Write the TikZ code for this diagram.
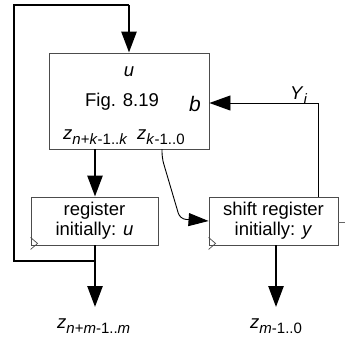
\documentclass[tikz,border=0pt]{standalone}
\usepackage{fontspec}
\setmainfont{Liberation Sans}
\usetikzlibrary{arrows.meta}
\newcommand\mysub[1]{\raisebox{-5pt}{\fontsize{15}{15}\selectfont #1}}
\begin{document}
\begin{tikzpicture}[x=1pt,y=-1pt,
  font=\fontsize{18.5}{20}\selectfont,
  blk/.style={draw=black!70,line width=0.9pt,inner sep=0pt,fill=white},
  lbl/.style={inner sep=0pt,anchor=center},
  thk/.style={line width=2.6pt},
  thn/.style={line width=0.9pt},
  bigtip/.style={-{Triangle[length=21pt,width=15pt]}},
  smtip/.style={-{Triangle[length=20pt,width=13pt]}}]
\useasboundingbox (0,0) rectangle (345,338);
% blocks
\node[blk,minimum width=160pt,minimum height=96pt] (fig) at (129,101) {};
\node[blk,minimum width=127pt,minimum height=48pt,align=center] (reg) at (94.5,221) {register\\initially: \textit{u}};
\node[blk,minimum width=129pt,minimum height=48pt,align=center] (sreg) at (273.5,221) {shift register\\initially: \textit{y}};
% clock triangles
\draw[black!70,line width=0.7pt] ([yshift=-4pt]reg.south west) -- ++(7,-6) -- ++(-7,-6);
\draw[black!70,line width=0.7pt] ([yshift=-4pt]sreg.south west) -- ++(7,-6) -- ++(-7,-6);
% texts in main block
\node[lbl] (tu) at (129,72) {\textit{u}};
\node[lbl] (tfig) at (122,102) {Fig. 8.19};
\node[lbl] (tb) at (195,104) {\fontsize{21}{22}\selectfont\textit{b}};
\node[lbl,anchor=base west] (tz1) at (63,139) {\textit{z}\mysub{\textit{n}+\textit{k}-1..\textit{k}}};
\node[lbl,anchor=base west] (tz2) at (137,139) {\textit{z}\mysub{\textit{k}-1..0}};
\node[lbl,anchor=base west] (tY) at (290,99) {\textit{Y}\mysub{\textit{i}}};
% output labels
\node[lbl,anchor=base west] (o1) at (57,328) {\textit{z}\mysub{\textit{n}+\textit{m}-1..\textit{m}}};
\node[lbl,anchor=base west] (o2) at (250,328) {\textit{z}\mysub{\textit{m}-1..0}};
\coordinate (e1) at (95,307);
\coordinate (e2) at (276,307);
\coordinate (fb) at (95,261);
% connectors
\draw[thk,bigtip] (reg.south -| fb) -- (e1);
\draw[thk] (fb) -- (14,261) -- (14,5) -- (129,5) coordinate (tp);
\draw[thk,bigtip] (tp) -- (fig.north);
\draw[thk,bigtip] (95,149) -- (reg.north -| fb);
\draw[thk,bigtip] (sreg.south -| e2) -- (e2);
\draw[thn,smtip,rounded corners=6pt] (162,149) -- (162,158) -- (180,219) -- (sreg.west);
\draw[thn,bigtip] (sreg.north -| 318,0) -- (318,103) -- (fig.east |- 0,103);
\draw[black!60,line width=0.9pt] (sreg.east |- 0,222) -- (345,222);
\end{tikzpicture}
\end{document}
